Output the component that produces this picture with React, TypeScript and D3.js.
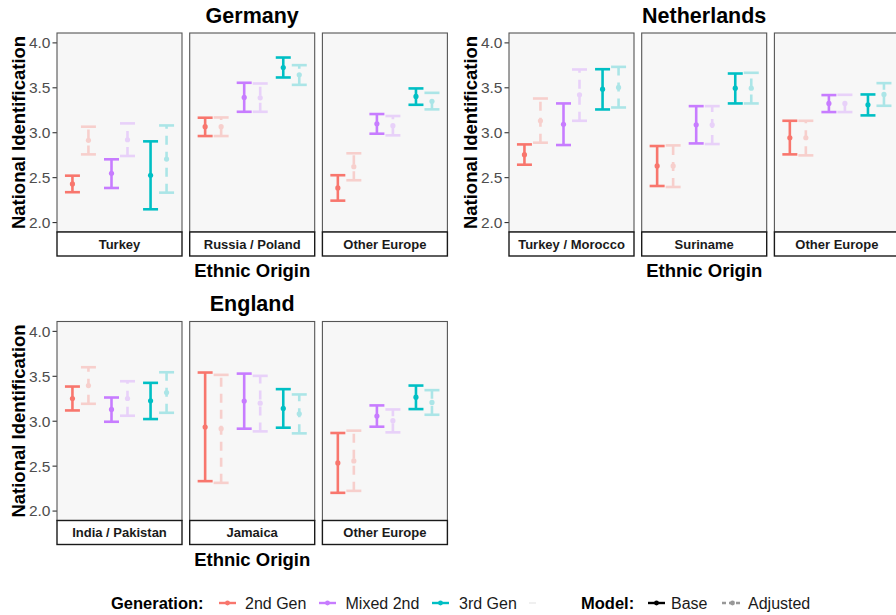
import React from "react";
import * as d3 from "d3";

const generations = ["2nd Gen", "Mixed 2nd", "3rd Gen"];
const genColors = ["#F8766D", "#C77CFF", "#00BFC4"];
const models = ["Base", "Adjusted"];
const yTicks = [2.0, 2.5, 3.0, 3.5, 4.0];

const countries = ["Germany", "Netherlands", "England"];
const germanyOrigins = ["Turkey", "Russia / Poland", "Other Europe"];
const netherlandsOrigins = ["Turkey / Morocco", "Suriname", "Other Europe"];
const englandOrigins = ["India / Pakistan", "Jamaica", "Other Europe"];

// [origin][generation][model] = [estimate, lower, upper]
const germanyEstimates = [
  [
    [[2.43, 2.338, 2.522], [2.915, 2.759, 3.067]],
    [[2.548, 2.385, 2.704], [2.922, 2.741, 3.104]],
    [[2.526, 2.148, 2.904], [2.707, 2.333, 3.081]],
  ],
  [
    [[3.067, 2.963, 3.167], [3.067, 2.963, 3.17]],
    [[3.393, 3.233, 3.556], [3.389, 3.233, 3.548]],
    [[3.726, 3.615, 3.837], [3.644, 3.533, 3.752]],
  ],
  [
    [[2.386, 2.244, 2.527], [2.622, 2.471, 2.771]],
    [[3.1, 2.989, 3.208], [3.078, 2.971, 3.186]],
    [[3.404, 3.311, 3.493], [3.349, 3.26, 3.444]],
  ],
];

const netherlandsEstimates = [
  [
    [[2.756, 2.644, 2.87], [3.133, 2.889, 3.381]],
    [[3.093, 2.863, 3.326], [3.422, 3.133, 3.704]],
    [[3.485, 3.259, 3.707], [3.504, 3.281, 3.733]],
  ],
  [
    [[2.63, 2.407, 2.852], [2.63, 2.396, 2.859]],
    [[3.089, 2.881, 3.296], [3.089, 2.874, 3.296]],
    [[3.496, 3.326, 3.659], [3.496, 3.326, 3.667]],
  ],
  [
    [[2.944, 2.759, 3.133], [2.944, 2.748, 3.133]],
    [[3.326, 3.23, 3.419], [3.326, 3.23, 3.422]],
    [[3.311, 3.193, 3.426], [3.426, 3.3, 3.552]],
  ],
];

const englandEstimates = [
  [
    [[3.253, 3.12, 3.386], [3.397, 3.194, 3.601]],
    [[3.131, 2.994, 3.264], [3.253, 3.061, 3.445]],
    [[3.227, 3.024, 3.427], [3.32, 3.094, 3.545]],
  ],
  [
    [[2.935, 2.333, 3.542], [2.917, 2.314, 3.516]],
    [[3.224, 2.917, 3.53], [3.201, 2.887, 3.505]],
    [[3.142, 2.928, 3.357], [3.083, 2.865, 3.298]],
  ],
  [
    [[2.536, 2.203, 2.869], [2.558, 2.225, 2.895]],
    [[3.057, 2.939, 3.176], [3.006, 2.876, 3.131]],
    [[3.268, 3.135, 3.397], [3.209, 3.072, 3.346]],
  ],
];

const FONT = "'Liberation Sans', Arial, Helvetica, sans-serif";

const blocks = [
  { name: countries[0], origins: germanyOrigins, est: germanyEstimates, x0: 0, y0: 0 },
  { name: countries[1], origins: netherlandsOrigins, est: netherlandsEstimates, x0: 452, y0: 0 },
  { name: countries[2], origins: englandOrigins, est: englandEstimates, x0: 0, y0: 288.5 },
];

const PANEL_W = 125;
const PANEL_GAP = 7.7;
const PANEL_L = 57;
const PANEL_T = 33;
const PANEL_B = 232;
const STRIP_H = 24;

function FacetBlock({ block }: { block: any }) {
  const y = d3.scaleLinear().domain([1.895, 4.11]).range([PANEL_B, PANEL_T]);
  const xGen = d3.scalePoint<string>().domain(generations).range([0, PANEL_W]).padding(0.6);
  const dodge = d3.scalePoint<string>().domain(models).range([-8, 8]);
  const cap = 7.5;
  const totalR = PANEL_L + 3 * PANEL_W + 2 * PANEL_GAP;
  const cx = (PANEL_L + totalR) / 2;
  return (
    <g transform={`translate(${block.x0},${block.y0})`}>
      <text x={cx} y={22.5} textAnchor="middle" fontFamily={FONT} fontWeight="bold" fontSize={21.5} fill="#000">
        {block.name}
      </text>
      <text
        transform={`translate(24.5,${(PANEL_T + PANEL_B) / 2}) rotate(-90)`}
        textAnchor="middle"
        fontFamily={FONT}
        fontWeight="bold"
        fontSize={18.5}
        fill="#000"
      >
        National Identification
      </text>
      <text x={cx} y={277} textAnchor="middle" fontFamily={FONT} fontWeight="bold" fontSize={18.5} fill="#000">
        Ethnic Origin
      </text>
      {yTicks.map((t) => (
        <g key={t}>
          <line x1={PANEL_L - 4.5} x2={PANEL_L} y1={y(t)} y2={y(t)} stroke="#333" strokeWidth={1.1} />
          <text x={PANEL_L - 6.5} y={y(t)} dy="0.35em" textAnchor="end" fontFamily={FONT} fontSize={15.5} fill="#4d4d4d">
            {d3.format(".1f")(t)}
          </text>
        </g>
      ))}
      {block.origins.map((origin: string, oi: number) => {
        const px = PANEL_L + oi * (PANEL_W + PANEL_GAP);
        return (
          <g key={origin} transform={`translate(${px},0)`}>
            <rect x={0} y={PANEL_T} width={PANEL_W} height={PANEL_B - PANEL_T} fill="#f7f7f7" stroke="#555" strokeWidth={1.1} />
            <rect x={0} y={PANEL_B} width={PANEL_W} height={STRIP_H} fill="#fff" stroke="#1a1a1a" strokeWidth={1.4} />
            <text x={PANEL_W / 2} y={PANEL_B + STRIP_H / 2} dy="0.36em" textAnchor="middle" fontFamily={FONT} fontWeight="bold" fontSize={13} fill="#1a1a1a">
              {origin}
            </text>
            {generations.map((g, gi) =>
              models.map((m, mi) => {
                const [est, lo, hi] = block.est[oi][gi][mi];
                const x = (xGen(g) as number) + (dodge(m) as number);
                const adj = mi === 1;
                const col = genColors[gi];
                return (
                  <g key={g + m} opacity={adj ? 0.3 : 1}>
                    <line x1={x} x2={x} y1={y(lo)} y2={y(hi)} stroke={col} strokeWidth={2.6} strokeDasharray={adj ? "9,7" : undefined} />
                    <line x1={x - cap} x2={x + cap} y1={y(hi)} y2={y(hi)} stroke={col} strokeWidth={2.6} />
                    <line x1={x - cap} x2={x + cap} y1={y(lo)} y2={y(lo)} stroke={col} strokeWidth={2.6} />
                    <circle cx={x} cy={y(est)} r={2.6} fill={col} />
                  </g>
                );
              })
            )}
          </g>
        );
      })}
    </g>
  );
}

function Legend() {
  const ly = 603;
  const genKeys = [
    { x: 219, tx: 245 },
    { x: 319, tx: 345.5 },
    { x: 432, tx: 459 },
  ];
  return (
    <g fontFamily={FONT} fontSize={16}>
      <text x={111} y={ly} dy="0.35em" fontWeight="bold" fontSize={16.5} fill="#000">Generation:</text>
      {generations.map((g, i) => (
        <g key={g}>
          <line x1={genKeys[i].x} x2={genKeys[i].x + 17} y1={ly} y2={ly} stroke={genColors[i]} strokeWidth={2.4} />
          <circle cx={genKeys[i].x + 8.5} cy={ly} r={2.4} fill={genColors[i]} />
          <text x={genKeys[i].tx} y={ly} dy="0.35em" fill="#1a1a1a">{g}</text>
        </g>
      ))}
      <line x1={529} x2={536} y1={ly} y2={ly} stroke="#f0f0f0" strokeWidth={2} />
      <text x={581} y={ly} dy="0.35em" fontWeight="bold" fontSize={16.5} fill="#000">Model:</text>
      <line x1={648} x2={665} y1={ly} y2={ly} stroke="#000" strokeWidth={2.4} />
      <circle cx={656.5} cy={ly} r={2.4} fill="#000" />
      <text x={671} y={ly} dy="0.35em" fill="#1a1a1a">{models[0]}</text>
      <g opacity={0.4}>
        <line x1={722} x2={743} y1={ly} y2={ly} stroke="#000" strokeWidth={2.4} strokeDasharray="4,3" />
        <circle cx={732.5} cy={ly} r={2.4} fill="#000" />
      </g>
      <text x={748} y={ly} dy="0.35em" fill="#1a1a1a">{models[1]}</text>
    </g>
  );
}

export default function App() {
  return (
    <svg width={896} height={615} style={{ position: "absolute", left: 0, top: 0, background: "#fff" }}>
      <rect width={896} height={615} fill="#fff" />
      {blocks.map((b) => (
        <FacetBlock key={b.name} block={b} />
      ))}
      <Legend />
    </svg>
  );
}
